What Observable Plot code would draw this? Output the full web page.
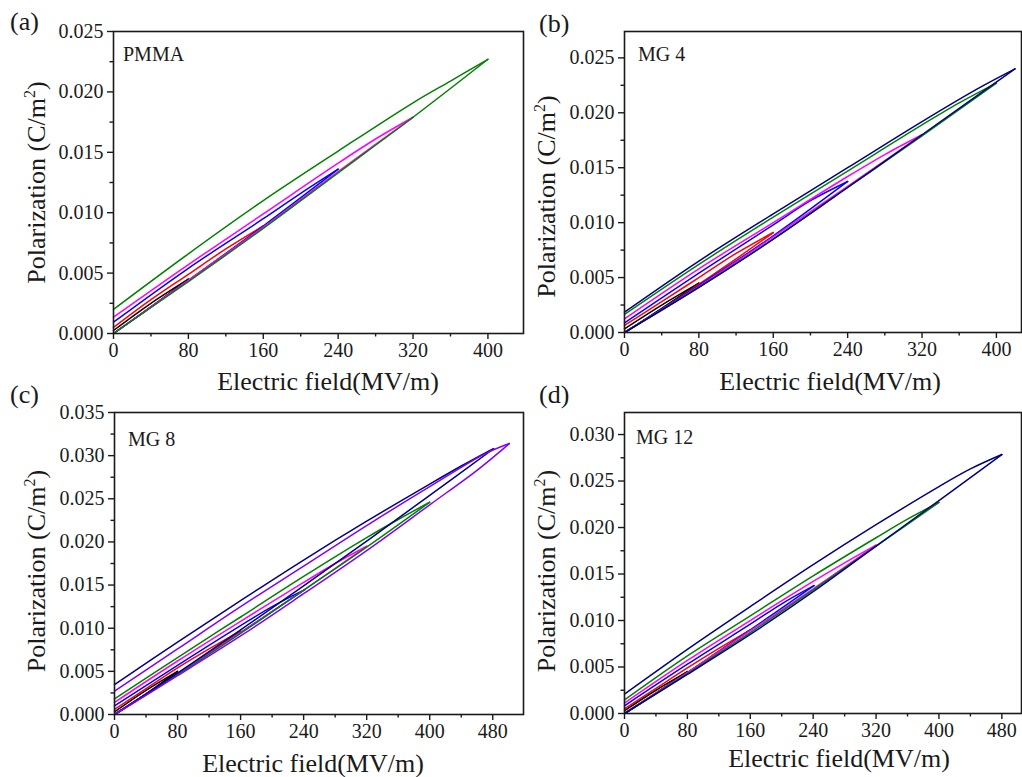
<!DOCTYPE html>
<html><head><meta charset="utf-8">
<script src="https://cdn.jsdelivr.net/npm/d3@7"></script>
<script src="https://cdn.jsdelivr.net/npm/@observablehq/plot@0.6"></script>
<style>
html,body{margin:0;padding:0;background:#fff;}
#fig{position:relative;width:1022px;height:777px;overflow:hidden;background:#fff;}
#fig > svg{position:absolute;}
</style></head><body><div id="fig"></div>
<script>
// ---------- text ----------
const panelLetters = ["(a)", "(b)", "(c)", "(d)"];
const sampleNames = ["PMMA", "MG 4", "MG 8", "MG 12"];
const xTitle = "Electric field(MV/m)";
const yTitleMain = "Polarization (C/m";
const yTitleSup = "2";

// ---------- ticks ----------
const xTicks400 = [0, 80, 160, 240, 320, 400];
const xTicks480 = [0, 80, 160, 240, 320, 400, 480];
const xMinor400 = [40, 120, 200, 280, 360];
const xMinor480 = [40, 120, 200, 280, 360, 440];
const yTicks025 = [0, 0.005, 0.010, 0.015, 0.020, 0.025];
const yTicks030 = [0, 0.005, 0.010, 0.015, 0.020, 0.025, 0.030];
const yTicks035 = [0, 0.005, 0.010, 0.015, 0.020, 0.025, 0.030, 0.035];
const yMinor025 = [0.0025, 0.0075, 0.0125, 0.0175, 0.0225];
const yMinor030 = [0.0025, 0.0075, 0.0125, 0.0175, 0.0225, 0.0275];
const yMinor035 = [0.0025, 0.0075, 0.0125, 0.0175, 0.0225, 0.0275, 0.0325];

// ---------- loops: [E (MV/m), P (C/m^2)], charging branch then discharging branch ----------
// (a) PMMA
const pmma80  = [[0,0],[40,0.0022],[80,0.0045],[40,0.0025],[0,0.00025]];
const pmma160 = [[0,0],[40,0.0022],[80,0.0044],[120,0.0066],[160,0.0089],[120,0.0070],[80,0.0049],[40,0.0028],[0,0.0005]];
const pmma240 = [[0,0],[80,0.0044],[160,0.0089],[240,0.0136],[200,0.0116],[160,0.0095],[80,0.0054],[0,0.00094]];
const pmma320 = [[0,0],[80,0.0044],[160,0.0088],[240,0.0134],[320,0.0179],[280,0.0161],[240,0.0141],[160,0.0099],[80,0.0057],[0,0.00135]];
const pmma400 = [[0,0],[80,0.0043],[160,0.0087],[240,0.0133],[320,0.0179],[400,0.0227],[360,0.0209],[320,0.0191],[240,0.0151],[160,0.0110],[80,0.0066],[0,0.0020]];
// (b) MG 4
const mg4_80  = [[0,0],[40,0.0022],[80,0.0045],[40,0.0025],[0,0.00034]];
const mg4_160 = [[0,0],[40,0.0021],[80,0.0044],[120,0.0067],[160,0.0091],[120,0.0072],[80,0.0050],[40,0.0028],[0,0.00064]];
const mg4_240 = [[0,0],[80,0.0043],[160,0.0088],[240,0.01375],[200,0.0120],[160,0.0098],[80,0.0054],[0,0.00088]];
const mg4_320 = [[0,0],[80,0.0042],[160,0.0087],[240,0.0133],[320,0.0180],[280,0.0162],[240,0.0142],[160,0.0100],[80,0.0058],[0,0.00125]];
const mg4_400 = [[0,0],[80,0.0041],[160,0.0085],[240,0.0132],[320,0.0179],[400,0.0227],[360,0.0209],[320,0.0189],[240,0.0147],[160,0.0105],[80,0.0062],[0,0.00164]];
const mg4_420 = [[0,0],[80,0.0041],[160,0.0085],[240,0.0132],[320,0.0180],[380,0.0216],[420,0.0240],[380,0.0222],[320,0.0192],[240,0.0150],[160,0.0108],[80,0.0065],[0,0.00185]];
// (c) MG 8
const mg8_80  = [[0,0],[40,0.0024],[80,0.0050],[40,0.0028],[0,0.0003]];
const mg8_160 = [[0,0],[40,0.0023],[80,0.0047],[120,0.0072],[160,0.0097],[120,0.0076],[80,0.0054],[40,0.0030],[0,0.0006]];
const mg8_240 = [[0,0],[80,0.0047],[160,0.0095],[242,0.0145],[200,0.0125],[160,0.0103],[80,0.0057],[0,0.0010]];
const mg8_320 = [[0,0],[80,0.0047],[160,0.0095],[240,0.0144],[320,0.0195],[280,0.0175],[240,0.0153],[160,0.0108],[80,0.0062],[0,0.0014]];
const mg8_400 = [[0,0],[80,0.0046],[160,0.0094],[240,0.0144],[320,0.0194],[400,0.0246],[360,0.0226],[320,0.0205],[240,0.0160],[160,0.0113],[80,0.0066],[0,0.0018]];
const mg8_480 = [[0,0],[80,0.0048],[160,0.0098],[240,0.0149],[320,0.0201],[400,0.0254],[481,0.0308],[470,0.0303],[440,0.0288],[400,0.0267],[320,0.0224],[240,0.0179],[160,0.0132],[80,0.0084],[0,0.00347]];
const mg8_500 = [[0,0],[80,0.0045],[160,0.0091],[240,0.0140],[320,0.0190],[400,0.0243],[460,0.0283],[501,0.0314],[470,0.0302],[400,0.0264],[320,0.0219],[240,0.0172],[160,0.0125],[80,0.0076],[0,0.0027]];
// (d) MG 12
const mg12_80  = [[0,0],[40,0.0022],[80,0.0045],[40,0.0025],[0,0.0003]];
const mg12_160 = [[0,0],[40,0.0022],[80,0.0044],[120,0.0067],[160,0.0090],[120,0.0070],[80,0.0049],[40,0.0027],[0,0.0005]];
const mg12_240 = [[0,0],[80,0.0044],[160,0.0090],[241,0.01375],[200,0.0118],[160,0.0096],[80,0.0053],[0,0.00083]];
const mg12_320 = [[0,0],[80,0.0044],[160,0.0089],[240,0.0134],[320,0.0181],[280,0.0162],[240,0.0142],[160,0.0100],[80,0.0057],[0,0.00112]];
const mg12_400 = [[0,0],[80,0.0043],[160,0.0087],[240,0.0133],[320,0.0180],[400,0.0227],[360,0.0209],[320,0.0189],[240,0.0148],[160,0.0105],[80,0.0062],[0,0.00147]];
const mg12_480 = [[0,0],[80,0.0042],[160,0.0085],[240,0.0131],[320,0.0180],[400,0.0229],[480,0.02785],[440,0.0263],[400,0.0244],[320,0.0203],[240,0.0160],[160,0.0115],[80,0.0069],[0,0.00209]];

// ---------- styles ----------
const SERIF = "'Liberation Serif','Times New Roman',Times,serif";
const INK = "#1a1a1a";
const C_BLACK = "#000000", C_RED = "#ff0000", C_BLUE = "#0000ff", C_MAGENTA = "#ff00ff",
      C_GREEN = "#008000", C_NAVY = "#000080", C_VIOLET = "#8000ff";

const fig = document.getElementById("fig");

function splitLoop(pts) {
  let im = 0;
  pts.forEach((p, i) => { if (p[0] > pts[im][0]) im = i; });
  return [pts.slice(0, im + 1), pts.slice(im)];
}

function panel(cfg) {
  const lineMarks = [];
  cfg.loops.forEach((pts, i) => {
    for (const branch of splitLoop(pts)) {
      lineMarks.push(Plot.line(branch, {x: d => d[0], y: d => d[1], stroke: cfg.colors[i], strokeWidth: 1.5, curve: "catmull-rom"}));
    }
  });
  const txt = {fontFamily: SERIF, fontSize: 20, fill: INK};
  const svg = Plot.plot({
    width: cfg.width, height: cfg.height,
    marginTop: cfg.mt, marginRight: cfg.mr, marginBottom: cfg.mb, marginLeft: cfg.ml,
    x: {domain: [0, cfg.xMax]},
    y: {domain: [0, cfg.yMax]},
    style: {background: "transparent", overflow: "visible", fontFamily: SERIF, color: INK},
    marks: [
      ...lineMarks,
      Plot.axisX(cfg.xTicks, {...txt, tickSize: 6, tickPadding: 3, tickFormat: d => String(d), label: null, strokeWidth: 1.4, stroke: INK}),
      Plot.axisX(cfg.xMinor, {tickSize: 3.5, tickFormat: () => "", label: null, strokeWidth: 1.4, stroke: INK}),
      Plot.axisY(cfg.yTicks, {...txt, tickSize: 6, tickPadding: 4, tickFormat: d3.format(".3f"), label: null, strokeWidth: 1.4, stroke: INK}),
      Plot.axisY(cfg.yMinor, {tickSize: 3.5, tickFormat: () => "", label: null, strokeWidth: 1.4, stroke: INK}),
      Plot.frame({stroke: INK, strokeWidth: 1.6})
    ]
  });
  svg.style.left = cfg.left + "px";
  svg.style.top = cfg.top + "px";
  fig.appendChild(svg);
}

panel({left: 0, top: 0, width: 524, height: 400, mt: 31, mb: 67, ml: 113, mr: 1,
  xMax: 438, yMax: 0.025, xTicks: xTicks400, xMinor: xMinor400, yTicks: yTicks025, yMinor: yMinor025,
  loops: [pmma80, pmma160, pmma240, pmma320, pmma400],
  colors: [C_BLACK, C_RED, C_BLUE, C_MAGENTA, C_GREEN]});

panel({left: 510, top: 0, width: 512, height: 400, mt: 31, mb: 68, ml: 114, mr: 1,
  xMax: 427, yMax: 0.0274, xTicks: xTicks400, xMinor: xMinor400, yTicks: yTicks025, yMinor: yMinor025,
  loops: [mg4_80, mg4_160, mg4_240, mg4_320, mg4_400, mg4_420],
  colors: [C_BLACK, C_RED, C_BLUE, C_MAGENTA, C_GREEN, C_NAVY]});

panel({left: 0, top: 380, width: 524, height: 397, mt: 32, mb: 63, ml: 114, mr: 1,
  xMax: 519, yMax: 0.035, xTicks: xTicks480, xMinor: xMinor480, yTicks: yTicks035, yMinor: yMinor035,
  loops: [mg8_80, mg8_160, mg8_240, mg8_320, mg8_400, mg8_480, mg8_500],
  colors: [C_BLACK, C_RED, C_BLUE, C_MAGENTA, C_GREEN, C_NAVY, C_VIOLET]});

panel({left: 510, top: 380, width: 512, height: 397, mt: 32, mb: 64, ml: 114, mr: 1,
  xMax: 505, yMax: 0.03237, xTicks: xTicks480, xMinor: xMinor480, yTicks: yTicks030, yMinor: yMinor030,
  loops: [mg12_80, mg12_160, mg12_240, mg12_320, mg12_400, mg12_480],
  colors: [C_BLACK, C_RED, C_BLUE, C_MAGENTA, C_GREEN, C_NAVY]});

// ---------- titles / labels overlay ----------
const overlay = d3.create("svg").attr("width", 1022).attr("height", 777)
  .style("left", "0px").style("top", "0px").style("pointer-events", "none")
  .attr("font-family", SERIF).attr("fill", INK);

const letterPos = [[10, 30], [539, 32], [10, 403], [539, 403]];
const namePos = [[123, 61], [638, 61], [128, 446], [636, 444]];
const xTitlePos = [[328, 390], [830, 390], [313, 772], [839, 767]];
const yTitlePos = [[45, 182.5], [555, 196.5], [45, 571], [555, 571]];

panelLetters.forEach((t, i) => overlay.append("text").attr("x", letterPos[i][0]).attr("y", letterPos[i][1]).attr("font-size", 26).text(t));
sampleNames.forEach((t, i) => overlay.append("text").attr("x", namePos[i][0]).attr("y", namePos[i][1]).attr("font-size", 20).text(t));
xTitlePos.forEach(([x, y]) => overlay.append("text").attr("x", x).attr("y", y).attr("font-size", 26).attr("text-anchor", "middle").text(xTitle));
yTitlePos.forEach(([x, y]) => {
  const t = overlay.append("text").attr("transform", `translate(${x},${y}) rotate(-90)`).attr("font-size", 26).attr("text-anchor", "middle");
  t.append("tspan").text(yTitleMain);
  t.append("tspan").attr("font-size", 16).attr("dy", -10).text(yTitleSup);
  t.append("tspan").attr("dy", 10).text(")");
});
fig.appendChild(overlay.node());
</script></body></html>
